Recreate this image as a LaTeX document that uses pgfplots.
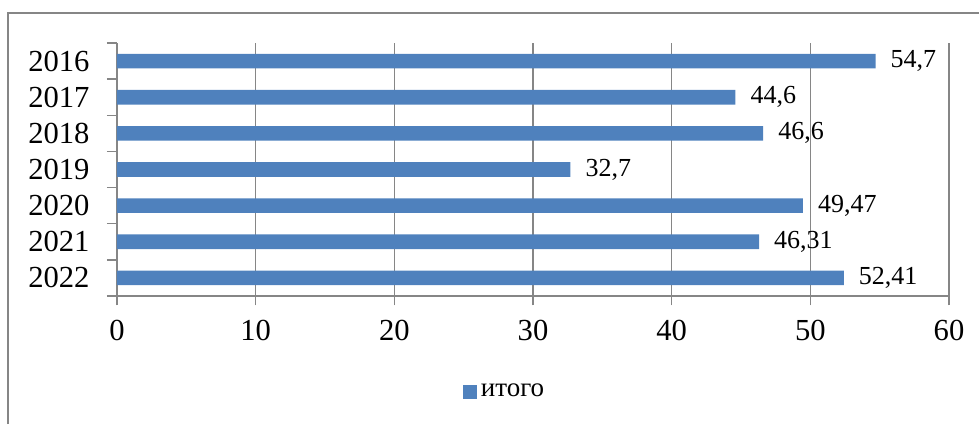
\documentclass[border=0pt]{standalone}
\usepackage{fontspec}
\setmainfont{Liberation Serif}
\usepackage{pgfplots}
\pgfplotsset{compat=1.18}
\definecolor{barblue}{HTML}{4F81BD}
\definecolor{gridgray}{HTML}{868686}
\begin{document}
\begin{tikzpicture}[x=1pt,y=1pt]
\useasboundingbox (0,0) rectangle (489.5,212);
\draw[gridgray, line width=0.7pt] (4,0) -- (4,205.5) -- (489.5,205.5);
\begin{axis}[
  at={(58.5pt,64pt)}, anchor=south west,
  scale only axis, width=416pt, height=126.5pt,
  xmin=0, xmax=60, ymin=-0.5, ymax=6.5,
  xbar, bar width=7.3pt,
  axis x line*=bottom, axis y line*=left,
  axis line style={gridgray, line width=0.7pt, -},
  xtick={0,10,...,60},
  ytick={0,...,6},
  yticklabels={2022,2021,2020,2019,2018,2017,2016},
  minor ytick={-0.5,0.5,...,6.5},
  tick align=outside,
  major tick length=4.7pt, minor tick length=5pt,
  major y tick style={draw=none},
  tick style={gridgray, line width=0.7pt},
  xmajorgrids, grid style={gridgray, line width=0.7pt},
  /pgf/number format/assume math mode=true,
  ticklabel style={font=\fontsize{15.3}{16}\selectfont},
  yticklabel style={xshift=-5.5pt},
  xticklabel style={yshift=-4pt},
  point meta=explicit symbolic,
  nodes near coords,
  every node near coord/.append style={font=\fontsize{13}{14}\selectfont, anchor=west, xshift=4pt, black},
  legend style={at={(0.467,-0.379)}, anchor=center, draw=none, font=\fontsize{13.5}{14}\selectfont,
    inner sep=0pt},
  legend image code/.code={\fill[barblue] (0pt,-3.5pt) rectangle (7pt,3.5pt);},
]
\addplot[fill=barblue, draw=none] table[meta=lab] {
x y lab
54.7 6 54,7
44.6 5 44,6
46.6 4 46,6
32.7 3 32,7
49.47 2 49,47
46.31 1 46,31
52.41 0 52,41
};
\addlegendentry{итого}
\end{axis}
\end{tikzpicture}
\end{document}
